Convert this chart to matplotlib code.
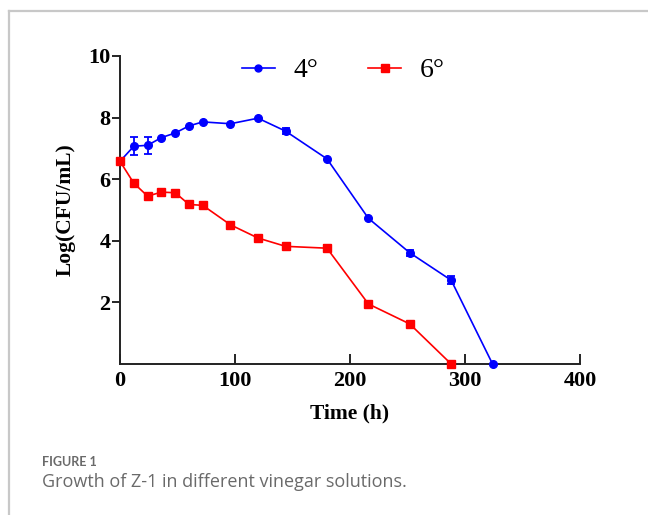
import matplotlib
matplotlib.use('Agg')
import matplotlib.pyplot as plt
from matplotlib.lines import Line2D

# sampling times (h)
time_4 = [0, 12, 24, 36, 48, 60, 72, 96, 120, 144, 180, 216, 252, 288, 324]
log_4 = [6.58, 7.07, 7.10, 7.35, 7.50, 7.73, 7.86, 7.80, 7.98, 7.56, 6.66, 4.73, 3.61, 2.72, 0.0]
err_4 = [0, 0.30, 0.28, 0, 0, 0, 0, 0, 0, 0.10, 0, 0, 0.10, 0.13, 0]

time_6 = [0, 12, 24, 36, 48, 60, 72, 96, 120, 144, 180, 216, 252, 288]
log_6 = [6.58, 5.87, 5.45, 5.58, 5.56, 5.18, 5.15, 4.52, 4.09, 3.82, 3.76, 1.95, 1.30, 0.0]
err_6 = [0, 0, 0, 0, 0, 0, 0, 0, 0, 0, 0.10, 0, 0, 0]

x_ticks = [0, 100, 200, 300, 400]
y_ticks = [2, 4, 6, 8, 10]

plt.rcParams['font.family'] = ['Liberation Serif', 'DejaVu Serif']

fig = plt.figure(figsize=(6.48, 5.15), dpi=100)
ax = fig.add_axes([0.1852, 0.2932, 0.7098, 0.5981])

def draw(t, v, e, color, marker, ms):
    ax.plot(t, v, color=color, marker=marker, markersize=ms, linewidth=1.2,
            clip_on=False, zorder=3)
    # only the points that carry a visible error bar
    idx = [i for i in range(len(e)) if e[i] > 0]
    ax.errorbar([t[i] for i in idx], [v[i] for i in idx], yerr=[e[i] for i in idx],
                fmt='none', ecolor=color, capsize=3, elinewidth=1.3, capthick=1.3, zorder=3)

draw(time_4, log_4, err_4, '#0000ff', 'o', 5.5)
draw(time_6, log_6, err_6, '#ff0000', 's', 5.5)

ax.set_xlim(0, 400)
ax.set_ylim(0, 10)
ax.set_xticks(x_ticks)
ax.set_yticks(y_ticks)
ax.spines['top'].set_visible(False)
ax.spines['right'].set_visible(False)
for s in ['left', 'bottom']:
    ax.spines[s].set_linewidth(1.4)
    ax.spines[s].set_color('#222222')
ax.tick_params(axis='x', direction='in', length=7, width=1.2, pad=5)
ax.tick_params(axis='y', direction='out', length=6, width=1.2, pad=1)
for lab in ax.get_xticklabels() + ax.get_yticklabels():
    lab.set_fontsize(16)
    lab.set_fontweight('bold')
ax.set_xlabel('Time (h)', fontsize=15.5, fontweight='bold', labelpad=9)
ax.set_ylabel('Log(CFU/mL)', fontsize=15.5, fontweight='bold', labelpad=9)

handles = [Line2D([], [], color='#0000ff', marker='o', markersize=5, linewidth=1.2),
           Line2D([], [], color='#ff0000', marker='s', markersize=5.5, linewidth=1.2)]
ax.legend(handles, ['4°', '6°'], loc='upper center', bbox_to_anchor=(0.485, 1.075), ncol=2,
          frameon=False, fontsize=20, handlelength=1.2, columnspacing=1.8, handletextpad=0.65)

# card border and caption
fig.add_artist(Line2D([9/648, 1.0], [1 - 11/515, 1 - 11/515], color='#c8c8c8', linewidth=1.6))
fig.add_artist(Line2D([9/648, 9/648], [0.0, 1 - 11/515], color='#c8c8c8', linewidth=1.6))
fig.text(42/648, 1 - 462/515, 'FIGURE 1', family=['Lato', 'DejaVu Sans'], fontsize=9,
         fontweight='bold', color='#6a6a6a', va='center')
fig.text(42/648, 1 - 482/515, 'Growth of Z-1 in different vinegar solutions.',
         family=['Open Sans', 'DejaVu Sans'], fontsize=13, color='#6a6a6a', va='center')

fig.savefig('out.png', dpi=100)
